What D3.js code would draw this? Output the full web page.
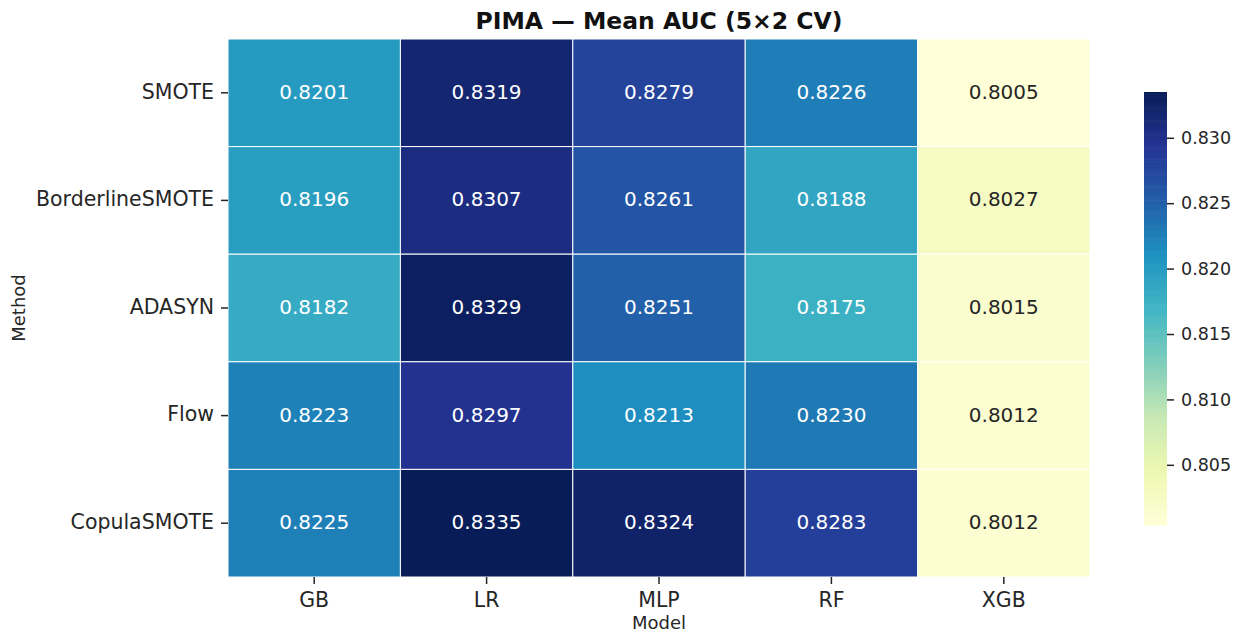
<!DOCTYPE html>
<html>
<head>
<meta charset="utf-8">
<script src="https://cdn.jsdelivr.net/npm/d3@7"></script>
<style>
  body { margin: 0; background: #fff; }
  svg { font-family: "DejaVu Sans", sans-serif; }
</style>
</head>
<body>
<div id="chart"></div>
<script>
// data
const methods = ["SMOTE", "BorderlineSMOTE", "ADASYN", "Flow", "CopulaSMOTE"];
const models = ["GB", "LR", "MLP", "RF", "XGB"];
const auc = [
  [0.8201, 0.8319, 0.8279, 0.8226, 0.8005],
  [0.8196, 0.8307, 0.8261, 0.8188, 0.8027],
  [0.8182, 0.8329, 0.8251, 0.8175, 0.8015],
  [0.8223, 0.8297, 0.8213, 0.8230, 0.8012],
  [0.8225, 0.8335, 0.8324, 0.8283, 0.8012]
];
const cbarTicks = [0.805, 0.810, 0.815, 0.820, 0.825, 0.830];
const vmin = 0.8004, vmax = 0.8335;

const width = 1236, height = 634;
const margin = { top: 39, right: 146, bottom: 57, left: 228 };
const plotW = 1090 - margin.left;
const plotH = 577 - margin.top;

const svg = d3.select("#chart").append("svg")
  .attr("width", width)
  .attr("height", height);

// YlGnBu, linear between the ColorBrewer stops (like matplotlib)
const ylgnbu = ["#ffffd9", "#edf8b1", "#c7e9b4", "#7fcdbb", "#41b6c4", "#1d91c0", "#225ea8", "#253494", "#081d58"];
const color = d3.scaleLinear()
  .domain(ylgnbu.map((c, i) => vmin + (vmax - vmin) * i / (ylgnbu.length - 1)))
  .range(ylgnbu)
  .clamp(true);

const x = d3.scaleBand().domain(models).range([0, plotW]);
const y = d3.scaleBand().domain(methods).range([0, plotH]);

const g = svg.append("g")
  .attr("transform", "translate(" + margin.left + "," + margin.top + ")");

const cells = [];
methods.forEach((m, i) => models.forEach((k, j) => cells.push({ m, k, v: auc[i][j] })));

g.selectAll("rect.cell")
  .data(cells)
  .enter().append("rect")
  .attr("class", "cell")
  .attr("x", d => x(d.k))
  .attr("y", d => y(d.m))
  .attr("width", x.bandwidth())
  .attr("height", y.bandwidth())
  .attr("fill", d => color(d.v))
  .attr("stroke", "#fff")
  .attr("stroke-width", 1);

function lum(c) {
  const r = d3.rgb(c);
  const f = v => { v /= 255; return v <= 0.03928 ? v / 12.92 : Math.pow((v + 0.055) / 1.055, 2.4); };
  return 0.2126 * f(r.r) + 0.7152 * f(r.g) + 0.0722 * f(r.b);
}

g.selectAll("text.val")
  .data(cells)
  .enter().append("text")
  .attr("class", "val")
  .attr("x", d => x(d.k) + x.bandwidth() / 2)
  .attr("y", d => y(d.m) + y.bandwidth() / 2)
  .attr("dy", "0.3em")
  .attr("text-anchor", "middle")
  .attr("font-size", 20)
  .attr("fill", d => lum(color(d.v)) > 0.408 ? "#262626" : "#fff")
  .text(d => d.v.toFixed(4));

// axes
const xAxis = g.append("g")
  .attr("transform", "translate(0," + plotH + ")")
  .call(d3.axisBottom(x).tickSize(7).tickPadding(8));
const yAxis = g.append("g")
  .call(d3.axisLeft(y).tickSize(7).tickPadding(7));
[xAxis, yAxis].forEach(a => {
  a.select(".domain").remove();
  a.selectAll("line").attr("stroke", "#262626").attr("stroke-width", 1.5);
  a.selectAll("text").attr("font-size", 20.5).attr("fill", "#262626")
    .attr("font-family", "DejaVu Sans, sans-serif");
});
yAxis.selectAll("text").attr("dy", "0.28em");

svg.append("text")
  .attr("x", margin.left + plotW / 2)
  .attr("y", 629)
  .attr("text-anchor", "middle")
  .attr("font-size", 18)
  .attr("fill", "#262626")
  .text("Model");

svg.append("text")
  .attr("transform", "translate(25," + (margin.top + plotH / 2) + ") rotate(-90)")
  .attr("text-anchor", "middle")
  .attr("font-size", 18)
  .attr("fill", "#262626")
  .text("Method");

svg.append("text")
  .attr("x", margin.left + plotW / 2)
  .attr("y", 29)
  .attr("text-anchor", "middle")
  .attr("font-size", 23.5)
  .attr("font-weight", "bold")
  .attr("fill", "#111")
  .text("PIMA \u2014 Mean AUC (5\u00d72 CV)");

// colorbar
const cbX = 1144, cbW = 23, cbTop = 92, cbBot = 525;
const cy = d3.scaleLinear().domain([vmin, vmax]).range([cbBot, cbTop]);
const steps = d3.range(0, 200).map(i => vmin + (vmax - vmin) * i / 200);
const dv = (vmax - vmin) / 200;
svg.append("g").selectAll("rect")
  .data(steps)
  .enter().append("rect")
  .attr("x", cbX)
  .attr("width", cbW)
  .attr("y", d => cy(d + dv))
  .attr("height", d => cy(d) - cy(d + dv) + 0.6)
  .attr("fill", d => color(d + dv / 2));

const cAxis = svg.append("g")
  .attr("transform", "translate(" + (cbX + cbW) + ",0)")
  .call(d3.axisRight(cy).tickValues(cbarTicks).tickFormat(d3.format(".3f")).tickSize(7).tickPadding(7));
cAxis.select(".domain").remove();
cAxis.selectAll("line").attr("stroke", "#262626").attr("stroke-width", 1.5);
cAxis.selectAll("text").attr("font-size", 17.5).attr("fill", "#262626")
  .attr("font-family", "DejaVu Sans, sans-serif");
</script>
</body>
</html>
